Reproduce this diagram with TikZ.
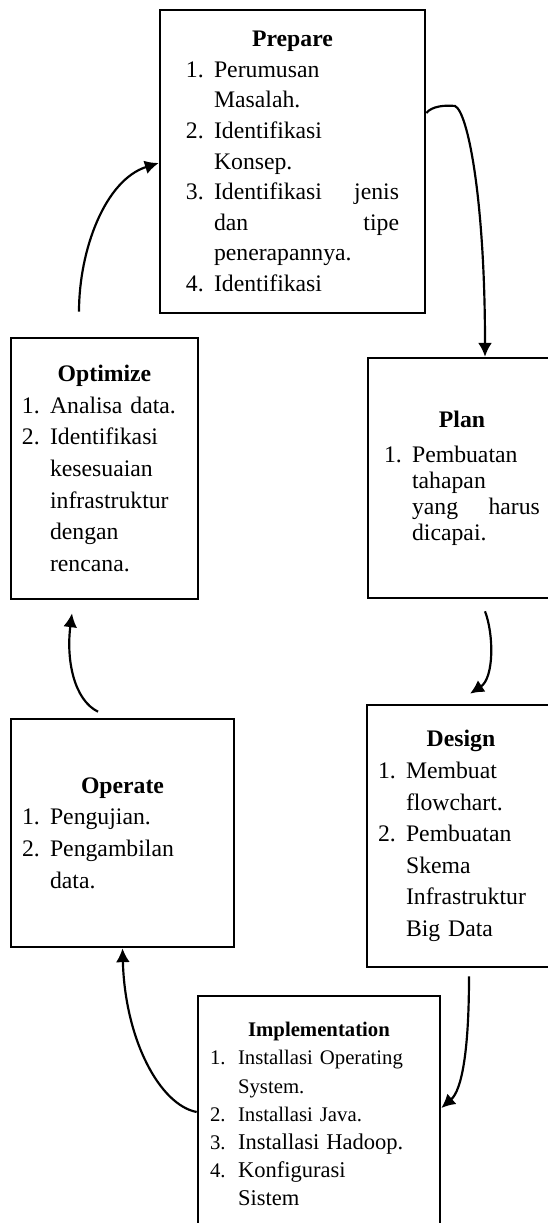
\documentclass[tikz,border=0pt]{standalone}
\usepackage{fontspec}
\setmainfont{Liberation Serif}
\usetikzlibrary{shapes,arrows.meta}

\newcommand{\itemno}[1]{\makebox[14.2pt][l]{#1}}
\newcommand{\cont}{\hspace*{14.2pt}}
\newcommand{\stagetitle}[1]{\makebox[\linewidth]{\textbf{#1}}}

\begin{document}
\begin{tikzpicture}[x=0.506pt, y=0.506pt]
\tikzstyle{stagebox}=[rectangle, draw=black, line width=1.3pt, align=left, inner sep=0pt, font=\fontsize{12}{16}\selectfont]
\tikzstyle{drawstyle}=[line width=1.1pt, -{Latex[length=7pt, width=7pt]}]

\useasboundingbox (0,0) rectangle (547,-1223);

\node[stagebox, minimum width=134.1pt, minimum height=153.3pt, text width=107.8pt, font=\fontsize{12}{15.5}\selectfont] (prepare) at (292.5,-161.5) {\stagetitle{Prepare}\\
\itemno{1.}Perumusan\\
\cont Masalah.\\
\itemno{2.}Identifikasi\\
\cont Konsep.\\
\itemno{3.}Identifikasi\hfill jenis\\
\cont dan\hfill tipe\\
\cont penerapannya.\\
\itemno{4.}Identifikasi};

\node[stagebox, minimum width=95.1pt, minimum height=121.4pt, text width=78.9pt, font=\fontsize{12}{13.2}\selectfont] (plan) at (462,-478) {\stagetitle{Plan}\\[4.5pt]
\itemno{1.}Pembuatan\\
\cont tahapan\\
\cont yang\hfill harus\\
\cont dicapai.};

\node[stagebox, minimum width=95.1pt, minimum height=132.6pt, text width=84pt] (design) at (461,-836) {\stagetitle{Design}\\
\itemno{1.}Membuat\\
\cont flowchart.\\
\itemno{2.}Pembuatan\\
\cont Skema\\
\cont Infrastruktur\\
\cont Big Data};

\node[stagebox, minimum width=122.5pt, minimum height=119.4pt, text width=110.3pt, font=\fontsize{10.5}{14.2}\selectfont] (impl) at (319,-1114) {\stagetitle{Implementation}\\
\itemno{1.}Installasi Operating\\
\cont System.\\
\itemno{2.}Installasi Java.\\
\itemno{3.}{\fontsize{11.4}{14.2}\selectfont Installasi Hadoop.}\\
\itemno{4.}{\fontsize{11.4}{14.2}\selectfont Konfigurasi}\\
\cont{\fontsize{11.4}{14.2}\selectfont Sistem}};

\node[stagebox, minimum width=112.8pt, minimum height=115.4pt, text width=101.7pt] (operate) at (122.5,-833) {\stagetitle{Operate}\\
\itemno{1.}Pengujian.\\
\itemno{2.}Pengambilan\\
\cont data.};

\node[stagebox, minimum width=94.6pt, minimum height=132.1pt, text width=83.5pt] (optimize) at (104.5,-468.5) {\stagetitle{Optimize}\\
\itemno{1.}Analisa data.\\
\itemno{2.}Identifikasi\\
\cont kesesuaian\\
\cont infrastruktur\\
\cont dengan\\
\cont rencana.};

\draw[drawstyle] ([shift={(0,48.5)}]prepare.east) .. controls (432,-106) and (445,-105) .. (455,-106) .. controls (468,-112) and (485,-200) .. ([shift={(23,0)}]plan.north);
\draw[drawstyle] ([shift={(23,-12)}]plan.south) .. controls (494,-635) and (494,-678) .. ([shift={(9,10)}]design.north);
\draw[drawstyle] ([shift={(8,-8)}]design.south) .. controls (469,-1050) and (462,-1090) .. ([shift={(0,6)}]impl.east);
\draw[drawstyle] ([shift={(0,2)}]impl.west) .. controls (160,-1105) and (125,-1040) .. (operate.south);
\draw[drawstyle] ([shift={(-24.5,6)}]operate.north) .. controls (74,-700) and (66,-660) .. ([shift={(-32.5,-13)}]optimize.south);
\draw[drawstyle] ([shift={(-25.5,25)}]optimize.north) .. controls (79,-250) and (105,-180) .. ([shift={(0,-1.5)}]prepare.west);
\end{tikzpicture}
\end{document}
